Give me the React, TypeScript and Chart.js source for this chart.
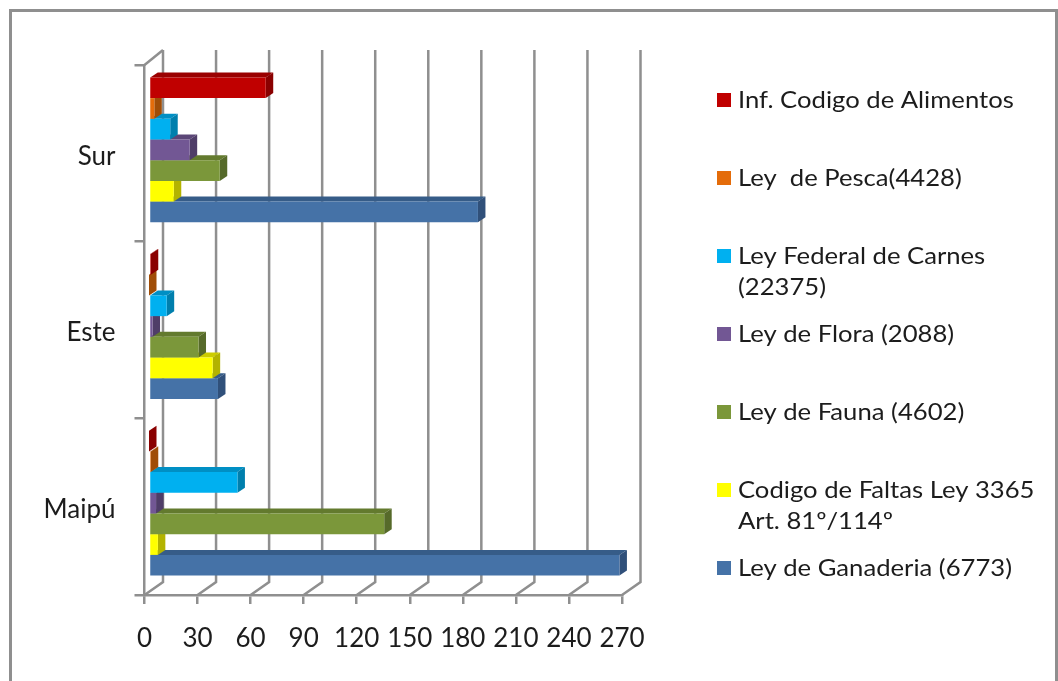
import React, { useEffect, useRef } from "react";
import { Chart, registerables } from "chart.js";

Chart.register(...registerables);

const categories = ["Sur", "Este", "Maipú"];
const seriesNames = [
  "Inf. Codigo de Alimentos",
  "Ley  de Pesca(4428)",
  "Ley Federal de Carnes|(22375)",
  "Ley de Flora (2088)",
  "Ley de Fauna (4602)",
  "Codigo de Faltas Ley 3365|Art. 81º/114º",
  "Ley de Ganaderia (6773)",
];
const infCodigo = [66, 1, 0];
const leyPesca = [3, 0, 1];
const leyCarnes = [12, 10, 50];
const leyFlora = [23, 2, 4];
const leyFauna = [40, 28, 133];
const codigoFaltas = [14, 36, 5];
const leyGanaderia = [186, 39, 266];
const seriesValues = [infCodigo, leyPesca, leyCarnes, leyFlora, leyFauna, codigoFaltas, leyGanaderia];
const frontColors = ["#C00000", "#E46C0A", "#00B0F0", "#725794", "#7B973A", "#FFFF00", "#4572A7"];
const sideColors = ["#8A0000", "#A04D07", "#007FAD", "#4F3D68", "#566A2A", "#B3B300", "#30507A"];
const topColors = ["#9A0000", "#B85A08", "#008FC4", "#5B4677", "#637A2E", "#CCCC00", "#365C88"];
const xTicksMax = 270;

const GRID = "#8F8F8F";
const INK = "#1C1C1C";
const FONT = "Lato";

const threeD = {
  id: "threeD",
  beforeDatasetsDraw(chart: any) {
    const { ctx } = chart;
    const xs = chart.scales.x;
    const ys = chart.scales.y;
    const dx = 18.5;
    const topDy = 15;
    const botDy = 13;
    ctx.save();
    ctx.strokeStyle = GRID;
    ctx.lineWidth = 2.5;
    const top = ys.top;
    const bot = ys.bottom;
    for (const t of xs.ticks) {
      const px = xs.getPixelForValue(t.value);
      ctx.beginPath();
      ctx.moveTo(px, bot);
      ctx.lineTo(px + dx, bot - botDy);
      ctx.lineTo(px + dx, top - topDy);
      ctx.stroke();
    }
    ctx.beginPath();
    ctx.moveTo(xs.left, top);
    ctx.lineTo(xs.left + dx, top - topDy);
    ctx.stroke();
    ctx.restore();
    ctx.save();
    ctx.translate(4.5, -3.5);
  },
  beforeDatasetDraw(chart: any, args: any) {
    const { ctx } = chart;
    const d = 7.5;
    const e = 5;
    const i = args.index;
    for (const el of args.meta.data) {
      const p = el.getProps(["x", "y", "base", "height"], true);
      const t = p.y - p.height / 2;
      const b = p.y + p.height / 2;
      ctx.fillStyle = topColors[i];
      ctx.beginPath();
      ctx.moveTo(p.base, t);
      ctx.lineTo(p.base + d, t - e);
      ctx.lineTo(p.x + d, t - e);
      ctx.lineTo(p.x, t);
      ctx.closePath();
      ctx.fill();
      ctx.fillStyle = sideColors[i];
      ctx.beginPath();
      ctx.moveTo(p.x, t);
      ctx.lineTo(p.x + d, t - e);
      ctx.lineTo(p.x + d, b - e);
      ctx.lineTo(p.x, b);
      ctx.closePath();
      ctx.fill();
    }
  },
  afterDatasetsDraw(chart: any) {
    chart.ctx.restore();
  },
  afterDraw(chart: any) {
    const { ctx } = chart;
    ctx.save();
    ctx.font = `23px ${FONT}`;
    ctx.textBaseline = "middle";
    ctx.textAlign = "left";
    const startY = 101;
    const stepY = 78;
    seriesNames.forEach((name, i) => {
      const y = startY + i * stepY;
      ctx.fillStyle = frontColors[i];
      ctx.fillRect(717, y - 8, 14, 14);
      ctx.fillStyle = INK;
      name.split("|").forEach((line, j) => {
        ctx.save();
        ctx.translate(738, y + j * 31);
        ctx.scale(1.115, 1);
        ctx.fillText(line, 0, 0);
        ctx.restore();
      });
    });
    ctx.restore();
  },
};

export default function App() {
  const ref = useRef<HTMLCanvasElement>(null);
  useEffect(() => {
    const chart = new Chart(ref.current!, {
      type: "bar",
      data: {
        labels: categories,
        datasets: seriesNames.map((n, i) => ({
          label: n.replace("|", " "),
          data: seriesValues[i],
          backgroundColor: frontColors[i],
          clip: false as any,
        })),
      },
      options: {
        indexAxis: "y",
        animation: false,
        responsive: false,
        layout: { padding: { top: 65, right: 436, left: 0, bottom: 0 } },
        datasets: { bar: { categoryPercentage: 0.82, barPercentage: 1 } },
        plugins: { legend: { display: false }, title: { display: false }, tooltip: { enabled: false } },
        scales: {
          x: {
            min: 0,
            max: xTicksMax,
            afterFit(s: any) { s.height = 86; },
            ticks: { stepSize: 30, color: INK, maxRotation: 0, font: { family: FONT, size: 26 }, padding: 19 },
            grid: { drawOnChartArea: false, drawTicks: true, tickLength: 9, color: GRID, lineWidth: 2.5 },
            border: { color: GRID, width: 2.5 },
          },
          y: {
            afterFit(s: any) { s.width = 144.5; },
            ticks: { color: INK, font: { family: FONT, size: 26 }, padding: 19, labelOffset: 3 },
            grid: { drawOnChartArea: false, drawTicks: true, tickLength: 10, color: GRID, lineWidth: 2.5 },
            border: { color: GRID, width: 2.5 },
          },
        },
      },
      plugins: [threeD],
    } as any);
    return () => chart.destroy();
  }, []);
  return (
    <div style={{ position: "absolute", left: 0, top: 0, width: 1058, height: 681, background: "#fff", overflow: "hidden" }}>
      <div style={{ position: "absolute", left: 9, top: 9, width: 1049, height: 700, border: "3px solid #8F8F8F", boxSizing: "border-box" }} />
      <canvas ref={ref} width={1058} height={681} style={{ position: "absolute", left: 0, top: 0 }} />
    </div>
  );
}
